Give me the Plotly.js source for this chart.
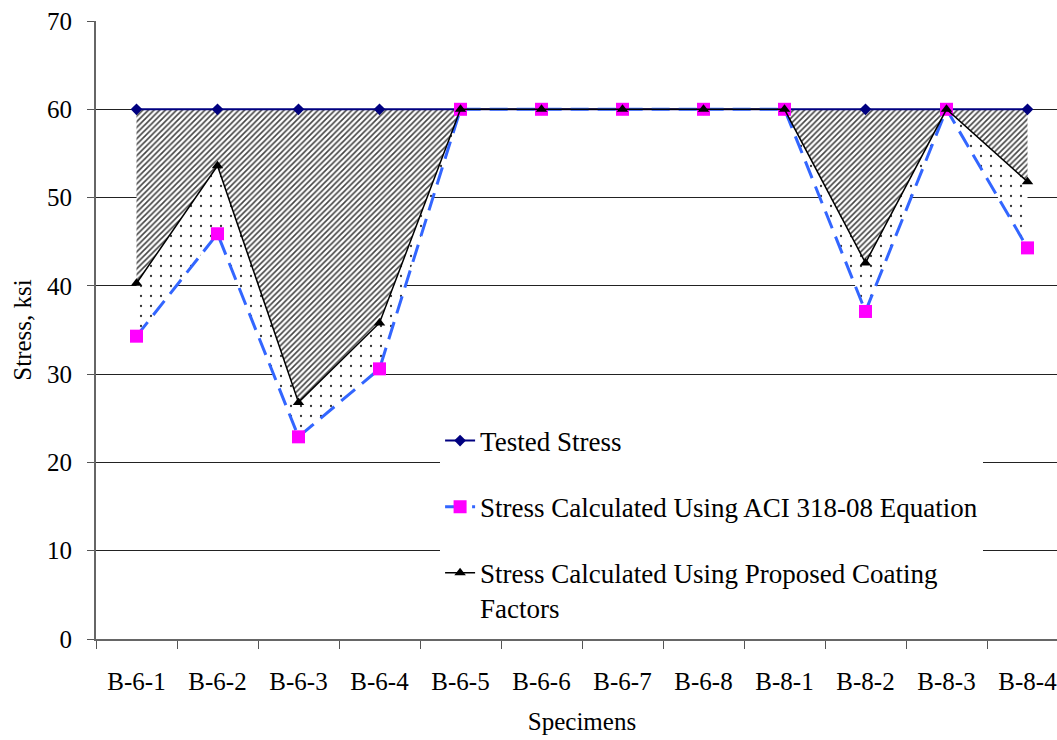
<!DOCTYPE html>
<html>
<head>
<meta charset="utf-8">
<script src="https://cdn.plot.ly/plotly-3.0.1.min.js"></script>
<style>
html, body { margin: 0; padding: 0; overflow: hidden; background: #fff; }
#chart { width: 1080px; height: 740px; }
</style>
</head>
<body>
<div id="chart"></div>
<script>
const specimens = ["B-6-1","B-6-2","B-6-3","B-6-4","B-6-5","B-6-6","B-6-7","B-6-8","B-8-1","B-8-2","B-8-3","B-8-4"];
const testedStress = [60,60,60,60,60,60,60,60,60,60,60,60];
const aciStress = [34.3,45.9,22.9,30.6,60,60,60,60,60,37.1,60,44.3];
const proposedStress = [40.3,53.6,26.8,35.8,60,60,60,60,60,42.6,60,51.8];

const FONT = "'Liberation Serif', 'Times New Roman', Times, serif";

const traces = [
  // fill helpers
  {x: specimens, y: testedStress, mode: "lines", line: {width: 0}, showlegend: false, hoverinfo: "skip"},
  {x: specimens, y: proposedStress, mode: "lines", line: {width: 0}, fill: "tonexty",
   fillcolor: "rgba(0,0,0,0)",
   fillpattern: {shape: "/", size: 4, solidity: 0.4, fgcolor: "#444", bgcolor: "#fff"},
   showlegend: false, hoverinfo: "skip"},
  {x: specimens, y: aciStress, mode: "lines", line: {width: 0}, fill: "tonexty",
   fillcolor: "rgba(0,0,0,0)",
   fillpattern: {shape: ".", size: 10, solidity: 0.04, fgcolor: "#333", bgcolor: "#fff"},
   showlegend: false, hoverinfo: "skip"},
  // visible series
  {x: specimens, y: testedStress, name: "Tested Stress", mode: "lines+markers",
   line: {color: "#000080", width: 2}, marker: {symbol: "diamond", size: 9, color: "#000080"},
   legendgroup: "a"},
  {x: specimens, y: aciStress, name: "Stress Calculated Using ACI 318-08 Equation", mode: "lines+markers",
   line: {color: "#3366FF", width: 3, dash: "18px,9px"}, marker: {symbol: "square", size: 13, color: "#FF00FF"},
   legendgroup: "b"},
  {x: specimens, y: proposedStress, name: "Stress Calculated Using Proposed Coating<br>Factors", mode: "lines+markers",
   line: {color: "#000000", width: 1.5}, marker: {symbol: "triangle-up", size: 10, color: "#000000"},
   legendgroup: "c"}
];

const layout = {
  width: 1080, height: 740,
  margin: {l: 96, r: 12, t: 21, b: 101},
  paper_bgcolor: "#fff", plot_bgcolor: "#fff",
  font: {family: FONT, color: "#000", size: 24},
  showlegend: true,
  legend: {
    x: 0.354, xanchor: "left", y: 0.36, yanchor: "top",
    bgcolor: "#fff", borderwidth: 0,
    font: {family: FONT, size: 27, color: "#000"},
    tracegroupgap: 28, traceorder: "grouped", valign: "top"
  },
  xaxis: {
    type: "category", tickson: "boundaries", ticks: "outside", ticklen: 8, tickcolor: "#555", tickwidth: 1,
    showline: true, linecolor: "#666", linewidth: 2, showgrid: false, zeroline: false,
    tickfont: {family: FONT, size: 25}, ticklabelstandoff: 19,
    title: {text: "Specimens", font: {family: FONT, size: 25}, standoff: 18},
    range: [-0.5, 11.5]
  },
  yaxis: {
    range: [0, 70], dtick: 10, ticks: "outside", ticklen: 7, tickcolor: "#555",
    showline: true, linecolor: "#666", linewidth: 2,
    showgrid: true, gridcolor: "#222", gridwidth: 1, zeroline: false,
    tickfont: {family: FONT, size: 25}, ticklabelstandoff: 10,
    title: {text: "Stress, ksi", font: {family: FONT, size: 25}, standoff: 8}
  }
};

Plotly.newPlot("chart", traces, layout, {displayModeBar: false, staticPlot: true});
</script>
</body>
</html>
